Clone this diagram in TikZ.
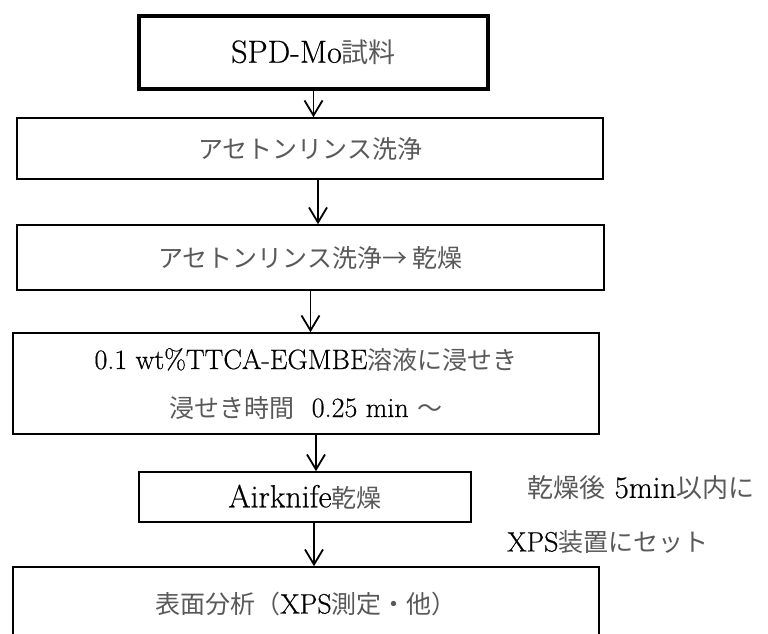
\documentclass[tikz,border=0pt]{standalone}
\usepackage{fontspec}
\setmainfont{Latin Modern Roman}[FakeBold=0.5]
\newfontfamily\jpfont{Noto Sans CJK JP}
\usetikzlibrary{arrows.meta}
\newcommand\J[1]{{\jpfont\fontsize{25}{30}\selectfont\color{black!65}#1}}
\newcommand\JJ[1]{{\jpfont\fontsize{26}{30}\selectfont\color{black!65}#1}}
\newcommand\JB[1]{{\jpfont\fontsize{27}{30}\selectfont\color{black!65}#1}}
\begin{document}
\begin{tikzpicture}[x=1pt,y=-1pt,
  box/.style={draw, line width=1.6pt, inner sep=0pt, align=center},
  thickbox/.style={box, line width=4pt},
  arr/.style={line width=1.8pt, -{Straight Barb[length=15pt,width=18pt]}},
  note/.style={anchor=west, inner sep=0pt},
  font=\fontsize{28}{34}\selectfont]
\useasboundingbox (0,0) rectangle (768,634);
\clip (0,0) rectangle (768,634);
\fill[white] (0,0) rectangle (768,634);

\node[thickbox, minimum width=349pt, minimum height=73pt, font=\fontsize{32}{36}\selectfont] (b1) at (313.5,52.5) {SPD-Mo\JB{試料}};
\node[box, minimum width=586pt, minimum height=61pt] (b2) at (310,148.5) {\J{アセトンリンス洗浄}};
\node[box, minimum width=587pt, minimum height=65pt] (b3) at (310.5,257.5) {\J{アセトンリンス洗浄→ 乾燥}};
\node[box, minimum width=586pt, minimum height=101pt, font=\fontsize{28}{48}\selectfont] (b4) at (306,383.5)
  {0.1 wt\%TTCA-EGMBE\J{溶液に浸せき}\\ \J{浸せき時間}\ \ 0.25 min \J{～}};
\node[box, minimum width=332pt, minimum height=50pt, font=\fontsize{32}{36}\selectfont] (b5) at (305,497) {Airknife\J{乾燥}};
\node[box, minimum width=586pt, minimum height=74pt] (b6) at (306,604) {\J{表面分析（}XPS\J{測定・他）}};

\node[note, font=\fontsize{31}{36}\selectfont] (n1) at (527,488) {\JJ{乾燥後} 5min\JJ{以内に}};
\node[note] (n2) at (507,542) {XPS\J{装置にセット}};

\draw[arr] (b1.south) -- (b1.south |- b2.north);
\draw[arr] ([xshift=8pt]b2.south) -- ([xshift=8pt]b2.south |- b3.north);
\draw[arr] (b3.south) -- (b3.south |- b4.north);
\draw[arr] ([xshift=10pt]b4.south) -- ([xshift=10pt]b4.south |- b5.north);
\draw[arr] ([xshift=9pt]b5.south) -- ([xshift=9pt]b5.south |- b6.north);
\end{tikzpicture}
\end{document}
